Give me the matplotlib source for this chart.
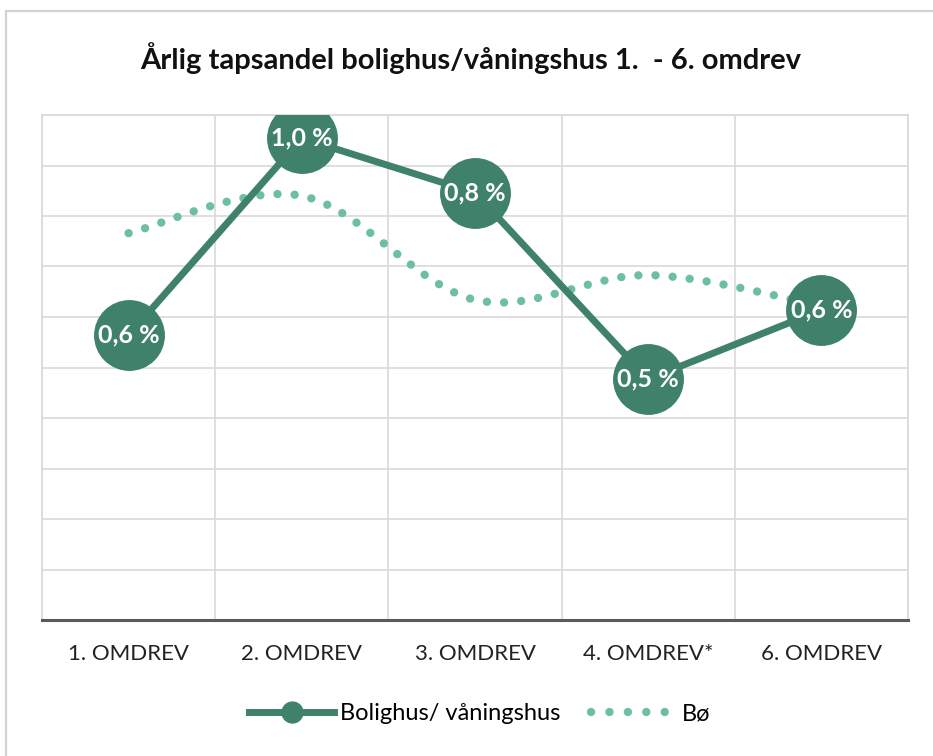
import numpy as np
import matplotlib
matplotlib.use('Agg')
import matplotlib.pyplot as plt
from matplotlib.path import Path
from matplotlib.patches import PathPatch, Rectangle
from matplotlib.lines import Line2D

plt.rcParams['font.family'] = ['Lato', 'DejaVu Sans']

# ----- data -----
categories = ['1. OMDREV', '2. OMDREV', '3. OMDREV', '4. OMDREV*', '6. OMDREV']
bolighus = [0.564, 0.954, 0.846, 0.477, 0.614]
bo = [0.766, 0.840, 0.634, 0.683, 0.622]

title = 'Årlig tapsandel bolighus/våningshus 1.  - 6. omdrev'
dark = '#3F816B'
light = '#6DBFA3'

W, H = 933, 756
fig = plt.figure(figsize=(W / 100, H / 100), dpi=100)

# outer chart frame
fig.add_artist(Rectangle((6 / W, -0.05), 1.1, 1 - 11 / H + 0.05, transform=fig.transFigure,
                         fill=False, edgecolor='#D3D3D3', lw=1.6))

ax = fig.add_axes([42 / W, (H - 620) / H, 866 / W, 505 / H])
x = np.arange(len(categories))
ax.set_xlim(-0.5, len(categories) - 0.5)
ax.set_ylim(0, 1.0)

# grid
ax.set_yticks(np.arange(0, 1.01, 0.1))
ax.set_yticklabels([])
ax.set_xticks(x)
ax.set_xticklabels(categories, fontsize=16)
ax.set_xticks(np.arange(-0.5, len(categories), 1.0), minor=True)
ax.grid(axis='y', which='major', color='#D9D9D9', lw=1.2)
ax.grid(axis='x', which='minor', color='#D9D9D9', lw=1.2)
ax.tick_params(axis='both', which='both', length=0)
ax.tick_params(axis='x', pad=17, colors='#222222')
for s in ['left', 'right', 'top']:
    ax.spines[s].set_color('#D9D9D9')
    ax.spines[s].set_linewidth(1.2)
ax.spines['bottom'].set_color('#595959')
ax.spines['bottom'].set_linewidth(2.2)
ax.set_axisbelow(True)

# smoothed dotted line (Bezier through the points)
pts = np.column_stack([x, bo]).astype(float)
verts = [pts[0]]
codes = [Path.MOVETO]
n = len(pts)
for i in range(n - 1):
    p0 = pts[max(i - 1, 0)]
    p1 = pts[i]
    p2 = pts[i + 1]
    p3 = pts[min(i + 2, n - 1)]
    c1 = p1 + (p2 - p0) / 6
    c2 = p2 - (p3 - p1) / 6
    verts += [c1, c2, p2]
    codes += [Path.CURVE4] * 3
ax.add_patch(PathPatch(Path(verts, codes), fill=False, edgecolor=light, lw=6,
                       linestyle=(0, (0.01, 2.05)), capstyle='round', zorder=2))

# main series
ax.plot(x, bolighus, color=dark, lw=5, marker='o', markersize=50,
        markeredgecolor=dark, zorder=3)
for xi, v in zip(x, bolighus):
    ax.text(xi, v, f'{v:.1f} %'.replace('.', ','), ha='center', va='center',
            color='white', fontsize=18, fontweight='bold', zorder=4)

fig.text(471 / W, 1 - 58 / H, title, ha='center', va='center',
         fontsize=21, fontweight='bold', color='#111111')

handles = [Line2D([], [], color=dark, lw=5, marker='o', markersize=15),
           Line2D([], [], color=light, lw=6, linestyle=(0, (0.01, 2.2)),
                  dash_capstyle='round')]
fig.legend(handles, ['Bolighus/ våningshus', 'Bø'], loc='center',
           bbox_to_anchor=(480 / W, 1 - 714 / H), ncol=2, frameon=False,
           fontsize=17, handlelength=3.6, handletextpad=0.25, columnspacing=1.3)

fig.savefig('out.png', dpi=100)
